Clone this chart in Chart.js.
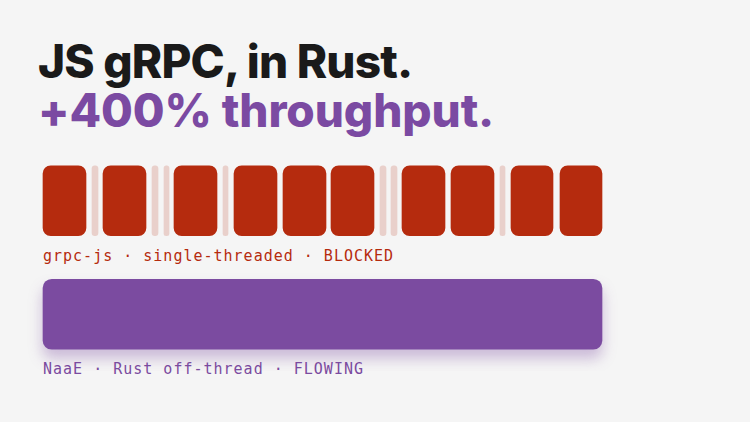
<!DOCTYPE html>
<html>
<head>
<meta charset="utf-8">
<script src="https://cdn.jsdelivr.net/npm/chart.js@4/dist/chart.umd.min.js"></script>
<style>
  body { margin: 0; width: 750px; height: 422px; background: #f5f5f5; overflow: hidden; position: relative; font-family: Inter, "Noto Sans", sans-serif; }
  .t { position: absolute; left: 38px; font-weight: 800; font-size: 46px; letter-spacing: -0.8px; white-space: nowrap; line-height: 1; }
  .lab { position: absolute; left: 43px; font-family: "DejaVu Sans Mono", monospace; font-size: 15px; letter-spacing: 1px; white-space: nowrap; }
  #wrap { position: absolute; left: 0; top: 144px; width: 750px; height: 227px; }
</style>
</head>
<body>
<div class="t" style="top:38px;color:#1a1a1a">JS gRPC, in Rust.</div>
<div class="t" style="top:87px;color:#7b4aa2;letter-spacing:-0.1px">+400% throughput.</div>
<div class="lab" style="top:247px;color:#b52b0e">grpc-js · single-threaded · BLOCKED</div>
<div class="lab" style="top:360px;color:#7b4ba0">NaaE · Rust off-thread · FLOWING</div>
<div id="wrap"><canvas id="c"></canvas></div>
<script>
// filas
var filas = ['grpc-js', 'NaaE'];
// bloques de trabajo (inicio, fin) en la fila bloqueada
var bloquesInicio = [43, 103, 174, 234, 283, 331, 402, 451, 511, 560];
var bloquesFin    = [86, 146, 217, 277, 326, 374, 445, 494, 553, 602];
// huecos finos entre bloques
var huecosInicio = [92, 152, 164, 223, 380, 391, 500];
var huecosFin    = [98, 158, 169, 228, 386, 397, 505];
// flujo continuo
var flujoInicio = 43;
var flujoFin = 602;

var datasets = [];
bloquesInicio.forEach(function (s, i) {
    datasets.push({ data: [[s, bloquesFin[i]], null], backgroundColor: '#b52b0e', borderRadius: 8, borderSkipped: false });
});
huecosInicio.forEach(function (s, i) {
    datasets.push({ data: [[s, huecosFin[i]], null], backgroundColor: 'rgba(181,43,14,0.18)', borderRadius: 3, borderSkipped: false });
});
datasets.push({ data: [null, [flujoInicio, flujoFin]], backgroundColor: '#7b4ba0', borderRadius: 9, borderSkipped: false, sombra: true });

var sombraPlugin = {
    id: 'sombra',
    beforeDatasetDraw: function (chart, args) {
        var ctx = chart.ctx;
        ctx.save();
        if (args.meta.controller.getDataset().sombra) {
            ctx.shadowColor = 'rgba(123,75,160,0.35)';
            ctx.shadowBlur = 14;
            ctx.shadowOffsetY = 9;
        }
    },
    afterDatasetDraw: function (chart) { chart.ctx.restore(); }
};

new Chart(document.getElementById('c').getContext('2d'), {
    type: 'bar',
    data: { labels: filas, datasets: datasets },
    options: {
        indexAxis: 'y',
        responsive: true,
        maintainAspectRatio: false,
        animation: false,
        grouped: false,
        barThickness: 70,
        layout: { padding: 0 },
        plugins: { legend: { display: false }, tooltip: { enabled: false } },
        scales: {
            x: { type: 'linear', min: 0, max: 750, display: false },
            y: { display: false }
        }
    },
    plugins: [sombraPlugin]
});
</script>
</body>
</html>
